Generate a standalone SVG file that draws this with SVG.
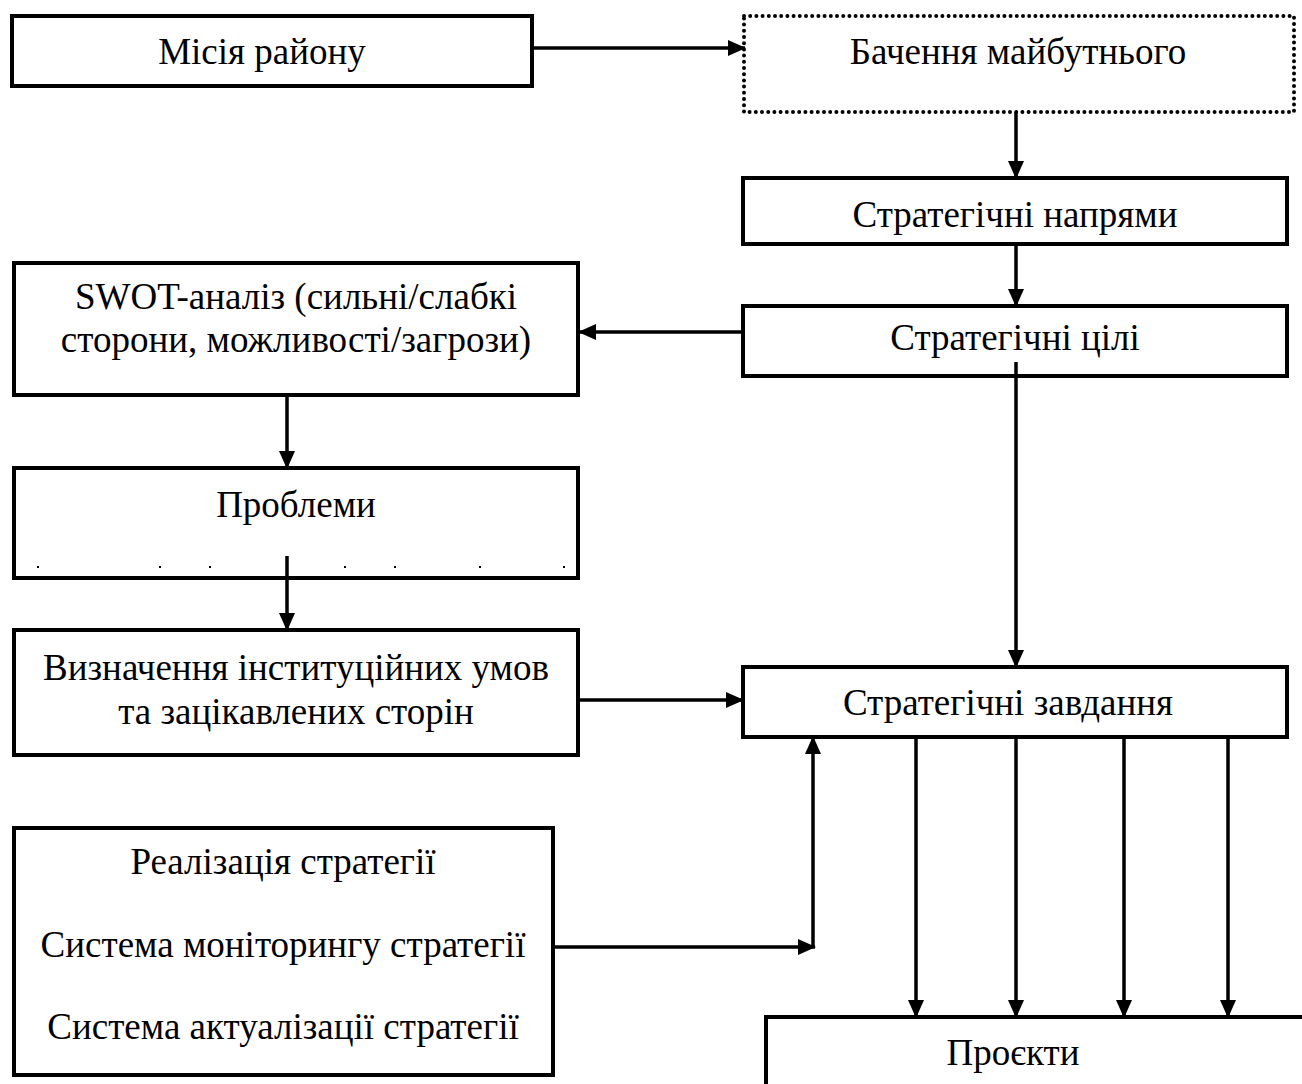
<svg xmlns="http://www.w3.org/2000/svg" width="1302" height="1084" viewBox="0 0 1302 1084">
<style>
.box{fill:#fff;stroke:#000;stroke-width:4}
.dot{fill:#fff;stroke:#000;stroke-width:4;stroke-dasharray:0 6.2;stroke-linecap:round}
.t{font-family:"Liberation Serif","Times New Roman",serif;font-size:37px;fill:#000;text-anchor:middle}
.c{fill:none;stroke:#000;stroke-width:3.5}
</style>
<defs>
<marker id="a" markerUnits="userSpaceOnUse" markerWidth="18" markerHeight="16" refX="17" refY="8" orient="auto">
<path d="M0,0 L18,8 L0,16 Z" fill="#000"/>
</marker>
</defs>
<g id="n-misia"><rect class="box" x="12" y="16" width="520" height="70"/><text class="t" x="262" y="64">Місія району</text></g>
<g id="n-bachennia"><rect class="dot" x="744" y="16" width="550" height="96"/><text class="t" x="1018" y="64">Бачення майбутнього</text></g>
<g id="n-napriamy"><rect class="box" x="743" y="178" width="544" height="66"/><text class="t" x="1015" y="227">Стратегічні напрями</text></g>
<g id="n-tsili"><rect class="box" x="743" y="306" width="544" height="70"/><text class="t" x="1015" y="350">Стратегічні цілі</text></g>
<g id="n-swot"><rect class="box" x="14" y="263" width="564" height="132"/><text class="t" x="296" y="309">SWOT-аналіз (сильні/слабкі</text><text class="t" x="296" y="352">сторони, можливості/загрози)</text></g>
<g id="n-problemy"><rect class="box" x="14" y="468" width="564" height="110"/><text class="t" x="296" y="517">Проблеми</text>
<g fill="#000"><rect x="37" y="566" width="2" height="2"/><rect x="159" y="566" width="2" height="2"/><rect x="209" y="566" width="2" height="2"/><rect x="344" y="566" width="2" height="2"/><rect x="394" y="566" width="2" height="2"/><rect x="479" y="566" width="2" height="2"/><rect x="563" y="566" width="2" height="2"/></g></g>
<g id="n-vyznachennia"><rect class="box" x="14" y="630" width="564" height="125"/><text class="t" x="296" y="680">Визначення інституційних умов</text><text class="t" x="296" y="724">та зацікавлених сторін</text></g>
<g id="n-zavdannia"><rect class="box" x="743" y="667" width="544" height="70"/><text class="t" x="1008" y="715">Стратегічні завдання</text></g>
<g id="n-realizatsiia"><rect class="box" x="14" y="828" width="539" height="247"/><text class="t" x="283" y="874">Реалізація стратегії</text><text class="t" x="283" y="957">Система моніторингу стратегії</text><text class="t" x="283" y="1039">Система актуалізації стратегії</text></g>
<g id="n-proiekty"><rect class="box" x="766" y="1017" width="560" height="100"/><text class="t" x="1013" y="1065">Проєкти</text></g>
<g id="connectors">
<line class="c" x1="532" y1="48" x2="745" y2="48" marker-end="url(#a)"/>
<line class="c" x1="1016" y1="112" x2="1016" y2="178" marker-end="url(#a)"/>
<line class="c" x1="1016" y1="244" x2="1016" y2="306" marker-end="url(#a)"/>
<line class="c" x1="743" y1="332" x2="579" y2="332" marker-end="url(#a)"/>
<line class="c" x1="287" y1="395" x2="287" y2="468" marker-end="url(#a)"/>
<line class="c" x1="287" y1="556" x2="287" y2="630" marker-end="url(#a)"/>
<line class="c" x1="578" y1="700" x2="743" y2="700" marker-end="url(#a)"/>
<line class="c" x1="1016" y1="362" x2="1016" y2="667" marker-end="url(#a)"/>
<line class="c" x1="553" y1="947" x2="815" y2="947" marker-end="url(#a)"/>
<line class="c" x1="813" y1="947" x2="813" y2="737" marker-end="url(#a)"/>
<line class="c" x1="916" y1="737" x2="916" y2="1017" marker-end="url(#a)"/>
<line class="c" x1="1016" y1="737" x2="1016" y2="1017" marker-end="url(#a)"/>
<line class="c" x1="1124" y1="737" x2="1124" y2="1017" marker-end="url(#a)"/>
<line class="c" x1="1228" y1="737" x2="1228" y2="1017" marker-end="url(#a)"/>
</g>
</svg>
